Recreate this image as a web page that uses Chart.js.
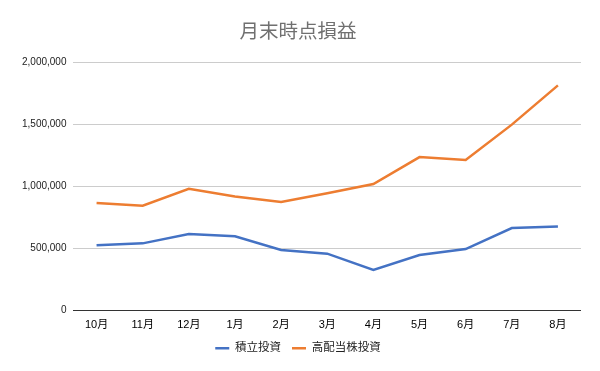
<!DOCTYPE html>
<html>
<head>
<meta charset="utf-8">
<script src="https://cdn.jsdelivr.net/npm/chart.js@4/dist/chart.umd.min.js"></script>
<style>
  body { margin: 0; background: #fff; }
</style>
</head>
<body>
<canvas id="chart" width="600" height="371"></canvas>
<script>
'use strict';

const months = ['10月', '11月', '12月', '1月', '2月', '3月', '4月', '5月', '6月', '7月', '8月'];
const tsumitate = [524000, 540000, 615000, 597000, 486000, 457000, 325000, 446000, 494000, 664000, 677000];
const kohaito = [865000, 844000, 981000, 919000, 873000, 945000, 1019000, 1236000, 1212000, 1498000, 1815000];
const yTicks = [0, 500000, 1000000, 1500000, 2000000];

const font = "'Liberation Sans', 'Noto Sans CJK JP', sans-serif";

let canvasElem = document.getElementById('chart');

new Chart(canvasElem, {
  type: 'line',
  data: {
    labels: months,
    datasets: [
      {
        label: '積立投資',
        data: tsumitate,
        borderColor: '#4472C4',
        backgroundColor: '#4472C4',
        borderWidth: 2.5,
        pointRadius: 0,
        tension: 0,
      },
      {
        label: '高配当株投資',
        data: kohaito,
        borderColor: '#ED7D31',
        backgroundColor: '#ED7D31',
        borderWidth: 2.5,
        pointRadius: 0,
        tension: 0,
      },
    ],
  },
  options: {
    responsive: false,
    animation: false,
    layout: { padding: { left: 15, right: 19, top: 8, bottom: 7 } },
    plugins: {
      title: {
        display: true,
        text: '月末時点損益',
        color: '#707070',
        font: { family: "'Noto Sans CJK JP', sans-serif", size: 19.5, weight: 'normal' },
        padding: { top: 11, bottom: 20 },
      },
      legend: {
        position: 'bottom',
        labels: {
          usePointStyle: true,
          pointStyleWidth: 14,
          pointStyle: 'line',
          color: '#222',
          font: { family: font, size: 11.5 },
          padding: 11,
        },
      },
      tooltip: { enabled: false },
    },
    scales: {
      x: {
        offset: true,
        grid: { display: false },
        border: { display: false },
        ticks: { color: '#000', font: { family: font, size: 11 }, padding: 0 },
      },
      y: {
        min: 0,
        max: 2000000,
        afterBuildTicks: scale => { scale.ticks = yTicks.map(v => ({ value: v })); },
        border: { display: false },
        grid: {
          drawTicks: false,
          color: ctx => (ctx.tick && ctx.tick.value === 0 ? '#333' : '#ccc'),
        },
        ticks: {
          color: '#222',
          font: { family: font, size: 10 },
          padding: 7,
          callback: v => v.toLocaleString('en-US'),
        },
      },
    },
  },
});
</script>
</body>
</html>
